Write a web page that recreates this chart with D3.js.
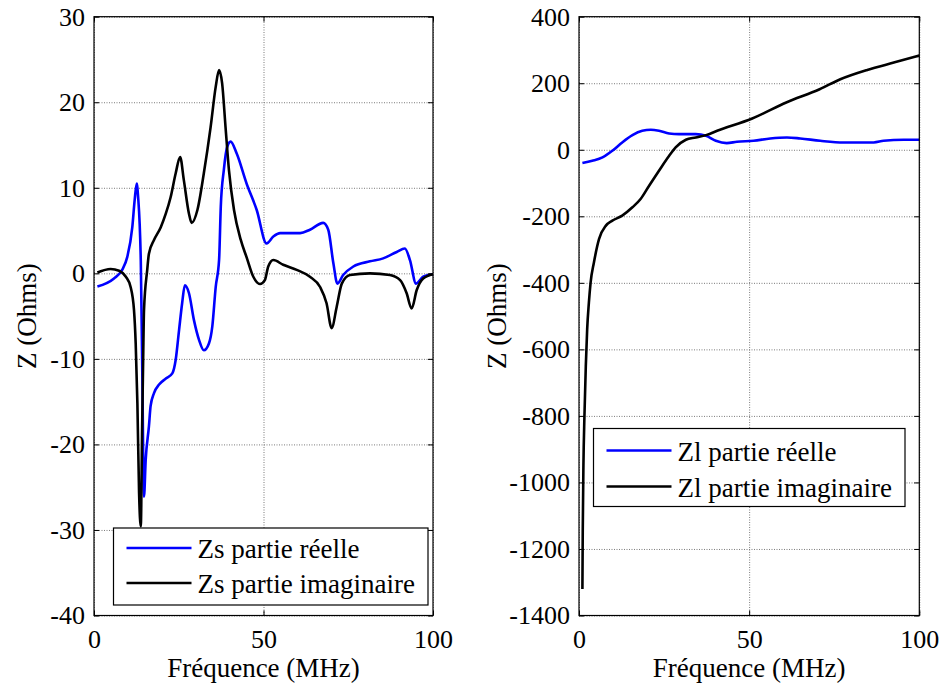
<!DOCTYPE html>
<html lang="fr">
<head>
<meta charset="UTF-8" />
<title>Impédances Zs et Zl</title>
<script src="https://d3js.org/d3.v7.min.js"></script>
<style>
  body { margin: 0; background: #fff; }
  svg { display: block; background: #fff; }
  .grid line { stroke: #7a7a7a; stroke-dasharray: 1 1.5; stroke-width: 1; }
  .grid path { display: none; }
  .ticks path { display: none; }
  .ticks line { stroke: #000; }
</style>
</head>
<body>
<div id="chart"></div>
<script>
// axis ticks
const freqTicks = [0, 50, 100];
const zsTicks = [-40, -30, -20, -10, 0, 10, 20, 30];
const zlTicks = [-1400, -1200, -1000, -800, -600, -400, -200, 0, 200, 400];

// Zs partie réelle (MHz, Ohms)
const zsReFreq = [1, 5.9, 8.3, 9.8, 11.3, 12.0, 12.6, 13.0, 13.8, 14.2, 14.75, 15.25, 16.2, 16.7, 17.7, 19.2, 21.2, 23.1, 24.1, 25.1, 26.0, 26.8, 28.0, 29.5, 31.0, 32.4, 33.9, 34.9, 35.9, 36.9, 37.4, 38.3, 39.3, 40.3, 42.1, 45.0, 48.0, 50.9, 52.9, 54.9, 60.8, 63.7, 67.6, 69.1, 70.6, 71.8, 73.5, 76.5, 81.4, 85.3, 89.3, 91.7, 93.2, 95.0, 97.1, 100];
const zsReVal = [-1.55, -0.6, 0.4, 1.9, 5.4, 8.6, 10.5, 9.0, 1.5, -10.1, -26.1, -21.8, -17.9, -15.5, -14, -13, -12.3, -11.7, -10.1, -6.6, -3.5, -1.4, -2.3, -5.5, -7.8, -9.0, -8.2, -6.2, -1.6, 1.6, 7.8, 12.1, 14.8, 15.4, 14, 10.5, 7.4, 3.5, 4.3, 4.7, 4.7, 5.1, 5.9, 5.1, 1.2, -1.2, -0.2, 0.8, 1.4, 1.75, 2.5, 2.9, 1.55, -1.2, -0.4, -0.1];

// Zs partie imaginaire
const zsImFreq = [1, 4.9, 7.4, 9.4, 10.8, 11.8, 12.3, 12.8, 13.3, 13.8, 14.2, 14.5, 14.75, 15.7, 16.2, 17.7, 19.7, 21.2, 22.6, 24.1, 25.4, 26.5, 28.0, 28.8, 30.5, 32.4, 34.4, 35.9, 36.9, 37.8, 38.8, 39.8, 41.3, 43.3, 45.0, 47.0, 49.0, 50.4, 51.4, 52.9, 55.8, 59.8, 63.7, 66.7, 68.6, 70.1, 71.6, 73.1, 75.5, 81.4, 87.3, 90.3, 92.2, 93.7, 95.2, 97.1, 100];
const zsImVal = [0.1, 0.5, 0.3, -0.4, -1.6, -4.3, -8.2, -15.2, -25.7, -29.6, -17.9, -10.1, -4.3, 0.4, 2.3, 3.9, 5.4, 7.0, 8.9, 11.7, 13.6, 10.9, 7.0, 5.9, 7.4, 11.7, 17.1, 21.8, 23.75, 22.2, 17.1, 12.1, 7.4, 3.9, 1.9, -0.4, -1.25, -0.8, 0.8, 1.55, 1.0, 0.4, -0.4, -1.6, -3.5, -6.4, -3.9, -1.2, -0.2, 0, -0.2, -0.8, -2.3, -4.1, -1.95, -0.6, -0.1];

// Zl partie réelle
const zlReFreq = [1, 3.9, 6.9, 9.8, 12.7, 15.7, 18.6, 21.1, 23.5, 26.5, 29.4, 34.3, 37.3, 40.2, 43.4, 46.4, 51.3, 56.2, 61.1, 65.0, 70.9, 77.7, 86.6, 89.5, 95.4, 100];
const zlReVal = [-40, -33, -23, -3, 22, 44, 57, 60, 57, 49, 47, 47, 42, 27, 20, 24, 27, 34, 37, 34, 27, 22, 22, 27, 30, 30];

// Zl partie imaginaire
const zlImFreq = [1, 1.1, 1.3, 1.6, 2.0, 2.4, 2.9, 3.4, 4.4, 5.9, 7.9, 9.8, 12.7, 15.7, 18.1, 20.6, 23.5, 26.5, 28.4, 31.4, 34.3, 37.3, 40.6, 50.9, 60.9, 70.7, 76.8, 84.7, 92.5, 100];
const zlImVal = [-1320, -1150, -950, -800, -650, -540, -460, -400, -338, -268, -228, -213, -198, -173, -148, -108, -63, -18, 7, 30, 37, 44, 57, 94, 142, 182, 212, 240, 262, 283];

const W = 943, H = 686;
const FONT = "'Liberation Serif', 'DejaVu Serif', 'Noto Serif', 'Times New Roman', Times, serif";
const svg = d3.select("#chart").append("svg")
  .attr("width", W).attr("height", H)
  .attr("font-family", FONT);
const fmt = d => String(d);

function drawPanel(p) {
  const x = d3.scaleLinear().domain([0, 100]).range([p.left, p.right]);
  const y = d3.scaleLinear().domain(d3.extent(p.yTicks)).range([p.bottom, p.top]);
  const g = svg.append("g");
  const w = p.right - p.left, h = p.bottom - p.top;

  // grille pointillée
  g.append("g").attr("class", "grid")
    .attr("transform", `translate(0,${p.bottom})`)
    .call(d3.axisBottom(x).tickValues(freqTicks).tickSize(-h).tickFormat(""));
  g.append("g").attr("class", "grid")
    .attr("transform", `translate(${p.left},0)`)
    .call(d3.axisLeft(y).tickValues(p.yTicks).tickSize(-w).tickFormat(""));

  // courbes
  const line = d3.line().curve(d3.curveMonotoneX).x(d => x(d[0])).y(d => y(d[1]));
  p.series.forEach(s => {
    g.append("path")
      .datum(d3.zip(s.f, s.v))
      .attr("fill", "none")
      .attr("stroke", s.color)
      .attr("stroke-width", 2.6)
      .attr("stroke-linejoin", "round")
      .attr("d", line);
  });

  // axes avec graduations internes
  const styleTicks = sel => sel.attr("font-family", FONT).attr("font-size", 26)
    .selectAll("text").attr("fill", "#000");
  g.append("g").attr("class", "ticks")
    .attr("transform", `translate(0,${p.bottom})`)
    .call(d3.axisBottom(x).tickValues(freqTicks).tickSize(-5).tickPadding(14).tickFormat(fmt))
    .call(styleTicks);
  g.append("g").attr("class", "ticks")
    .attr("transform", `translate(0,${p.top})`)
    .call(d3.axisTop(x).tickValues(freqTicks).tickSize(-5).tickFormat(""));
  g.append("g").attr("class", "ticks")
    .attr("transform", `translate(${p.left},0)`)
    .call(d3.axisLeft(y).tickValues(p.yTicks).tickSize(-5).tickPadding(9).tickFormat(fmt))
    .call(styleTicks);
  g.append("g").attr("class", "ticks")
    .attr("transform", `translate(${p.right},0)`)
    .call(d3.axisRight(y).tickValues(p.yTicks).tickSize(-5).tickFormat(""));

  g.append("rect")
    .attr("x", p.left).attr("y", p.top)
    .attr("width", w).attr("height", h)
    .attr("fill", "none").attr("stroke", "#000").attr("stroke-width", 1.2);

  // titres d'axes
  g.append("text")
    .attr("x", (p.left + p.right) / 2)
    .attr("y", 677)
    .attr("text-anchor", "middle")
    .attr("font-size", 27)
    .text("Fréquence (MHz)");
  g.append("text")
    .attr("transform", `translate(${p.ylabelX},${(p.top + p.bottom) / 2}) rotate(-90)`)
    .attr("text-anchor", "middle")
    .attr("font-size", 27)
    .text("Z (Ohms)");

  // légende
  const L = p.legend;
  g.append("rect")
    .attr("x", L.x).attr("y", L.y).attr("width", L.w).attr("height", L.h)
    .attr("fill", "#fff").attr("stroke", "#000").attr("stroke-width", 1.2);
  p.series.forEach((s, i) => {
    const cy = L.y + L.row0 + i * L.dy;
    g.append("line")
      .attr("x1", L.x + 13).attr("x2", L.x + 78)
      .attr("y1", cy).attr("y2", cy)
      .attr("stroke", s.color).attr("stroke-width", 2.6);
    g.append("text")
      .attr("x", L.x + 84).attr("y", cy + 10)
      .attr("font-size", 27)
      .text(s.name);
  });
}

drawPanel({
  left: 94, right: 433, top: 16.7, bottom: 615.5, ylabelX: 36,
  yTicks: zsTicks,
  series: [
    { name: "Zs partie réelle", color: "#0000ff", f: zsReFreq, v: zsReVal },
    { name: "Zs partie imaginaire", color: "#000000", f: zsImFreq, v: zsImVal }
  ],
  legend: { x: 113.5, y: 528, w: 314.5, h: 77, row0: 20, dy: 35 }
});

drawPanel({
  left: 579, right: 919.3, top: 16.7, bottom: 615.5, ylabelX: 506,
  yTicks: zlTicks,
  series: [
    { name: "Zl partie réelle", color: "#0000ff", f: zlReFreq, v: zlReVal },
    { name: "Zl partie imaginaire", color: "#000000", f: zlImFreq, v: zlImVal }
  ],
  legend: { x: 593.5, y: 428.5, w: 311.5, h: 78, row0: 22, dy: 36 }
});
</script>
</body>
</html>
